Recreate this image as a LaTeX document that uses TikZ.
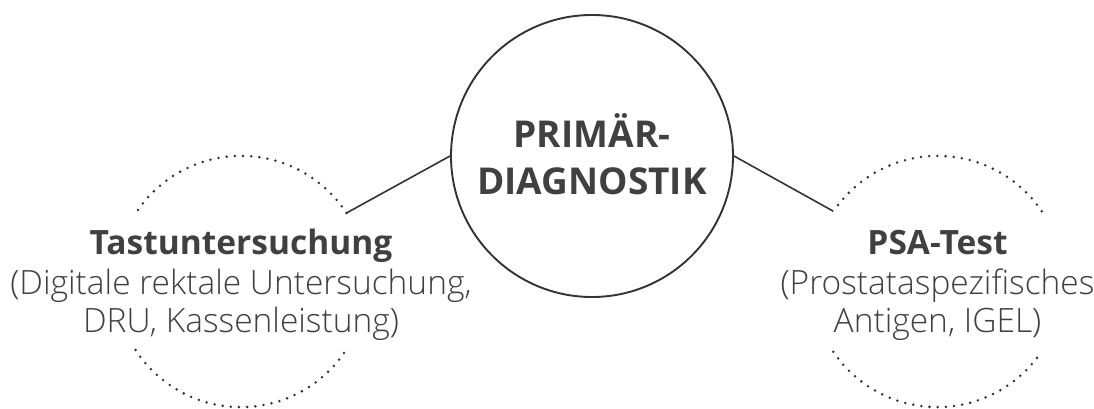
\documentclass[tikz,border=0pt]{standalone}
\usepackage{fontspec}
\setmainfont{Open Sans}
\newfontfamily\lightfont{Open Sans Light}
\definecolor{inkgray}{HTML}{404040}
\definecolor{linegray}{HTML}{333333}

\begin{document}
\begin{tikzpicture}[x=1pt,y=1pt,
    bigtitle/.style={font=\fontsize{37}{44}\selectfont\bfseries,text=inkgray,
        anchor=base,inner sep=0pt},
    subtitle/.style={font=\fontsize{33.5}{40}\selectfont\bfseries,text=inkgray,
        anchor=base,inner sep=0pt},
    desc/.style={font=\fontsize{33.5}{38}\lightfont,text=inkgray,
        anchor=base,inner sep=0pt},
    dotring/.style={linegray,line width=2.8pt,line cap=round,
        dash pattern=on 0pt off 8.2pt},
    link/.style={linegray,line width=1.6pt}]
    \useasboundingbox (0,0) rectangle (1094,408);

    \node (primar) at (592,252) [circle,draw=linegray,line width=1.9pt,
        minimum size=282pt,inner sep=0pt]{};
    \node[bigtitle] (primartext1) at (592,261) {PRIMÄR-};
    \node[bigtitle] (primartext2) at (592,214) {DIAGNOSTIK};

    \begin{scope}[every node/.style={circle,inner sep=0pt,minimum size=251pt}]
        \node (tast) at (241,126.5) {};
        \node (psa) at (937.5,126.5) {};
    \end{scope}

    % dotted half rings
    \draw[dotring] (tast.33) arc[start angle=33,end angle=147,radius=125.5];
    \draw[dotring] (tast.213) arc[start angle=213,end angle=327,radius=125.5];
    \draw[dotring] (psa.34) arc[start angle=34,end angle=146,radius=125.5];
    \draw[dotring] (psa.214) arc[start angle=214,end angle=326,radius=125.5];

    \path[link] (tast.33) edge (primar.west);
    \path[link] (psa.146) edge (primar.east);

    \node[subtitle] (tasttitle) at (241,154) {Tastuntersuchung};
    \node[desc] (tastdesc1) at (241,114) {(Digitale rektale Untersuchung,};
    \node[desc] (tastdesc2) at (241,76) {DRU, Kassenleistung)};

    \node[subtitle] (psatitle) at (937.5,154) {PSA-Test};
    \node[desc] (psadesc1) at (937.5,114) {(Prostataspezifisches};
    \node[desc] (psadesc2) at (937.5,76) {Antigen, IGEL)};
\end{tikzpicture}
\end{document}
